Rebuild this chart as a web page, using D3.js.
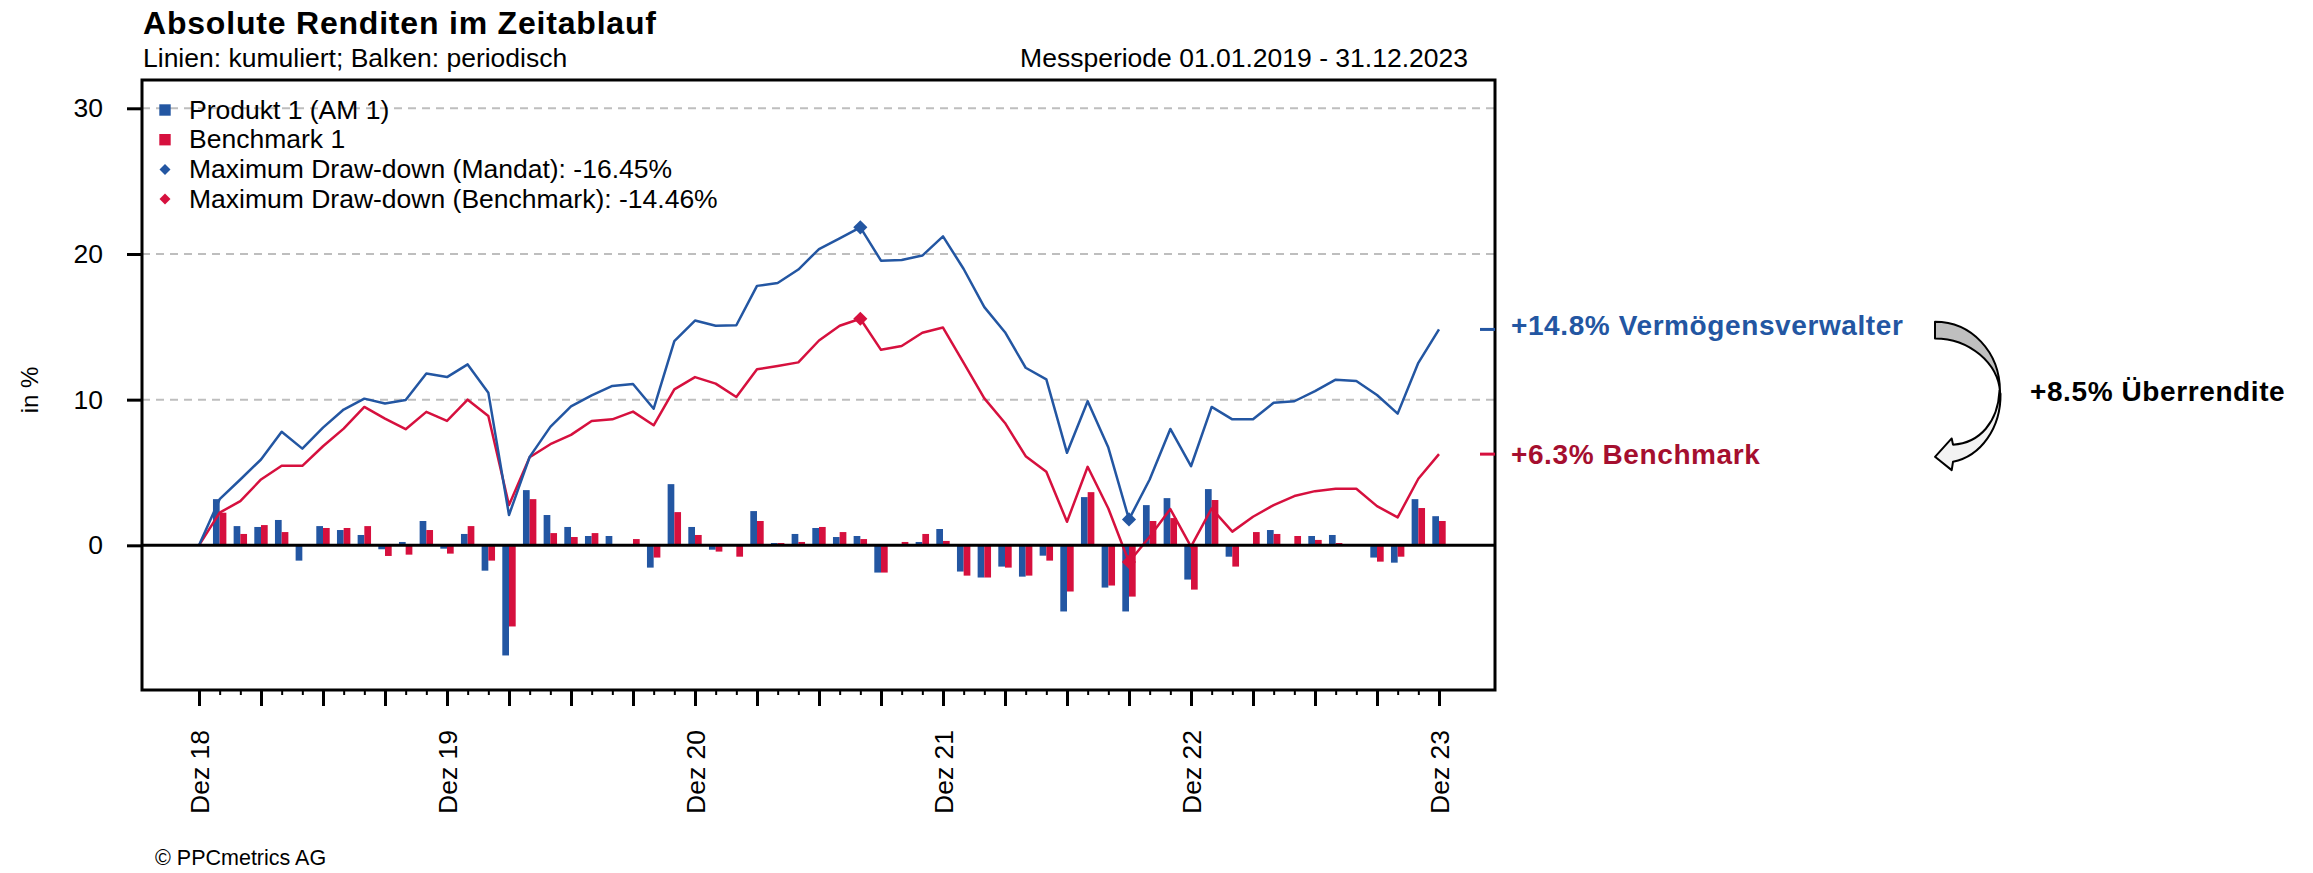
<!DOCTYPE html>
<html>
<head>
<meta charset="utf-8">
<script src="https://cdn.jsdelivr.net/npm/d3@7"></script>
<style>
  body { margin: 0; background: #fff; }
  svg { display: block; font-family: "Liberation Sans", Arial, sans-serif; }
</style>
</head>
<body>
<div id="chart"></div>
<script>
// x axis labels, placed every 12 months (month index 0 = Dez 18)
const xTickLabels = ["Dez 18", "Dez 19", "Dez 20", "Dez 21", "Dez 22", "Dez 23"];
const yTicks = [0, 10, 20, 30];

// cumulative returns in %, month 0..60
const produktCum = [0, 3.17, 4.52, 5.89, 7.79, 6.64, 8.08, 9.32, 10.07, 9.73, 9.98, 11.8, 11.55,
    12.42, 10.48, 2.08, 6.07, 8.13, 9.54, 10.3, 10.94, 11.07, 9.38, 14.02, 15.43,
    15.07, 15.11, 17.81, 18.01, 18.93, 20.34, 21.07, 21.83, 19.54, 19.59, 19.89, 21.21,
    18.97, 16.35, 14.63, 12.19, 11.39, 6.35, 9.89, 6.71, 1.78, 4.52, 7.99, 5.43,
    9.5, 8.65, 8.65, 9.79, 9.89, 10.59, 11.37, 11.28, 10.32, 9.04, 12.53, 14.82];
const benchCum = [0, 2.24, 3.04, 4.52, 5.46, 5.46, 6.8, 8.01, 9.5, 8.7, 7.97, 9.16, 8.54,
    10.0, 8.88, 2.76, 6.05, 6.94, 7.58, 8.54, 8.65, 9.18, 8.24, 10.71, 11.55,
    11.1, 10.18, 12.08, 12.31, 12.56, 14.06, 15.07, 15.55, 13.42, 13.68, 14.59, 14.95,
    12.53, 10.09, 8.4, 6.12, 5.05, 1.62, 5.39, 2.53, -1.14, 0.59, 2.49, -0.09,
    2.53, 0.94, 1.96, 2.76, 3.38, 3.72, 3.88, 3.88, 2.69, 1.92, 4.57, 6.26];

// periodic (monthly) returns in %, month 1..60
const produktMonthly = [3.17, 1.32, 1.26, 1.74, -1.05, 1.32, 1.05, 0.71, -0.27, 0.23, 1.67, -0.23,
    0.78, -1.74, -7.56, 3.79, 2.08, 1.26, 0.64, 0.64, 0.05, -1.53, 4.2, 1.26,
    -0.3, 0, 2.35, 0.16, 0.78, 1.19, 0.57, 0.64, -1.87, 0, 0.23, 1.12,
    -1.8, -2.21, -1.46, -2.15, -0.71, -4.54, 3.31, -2.9, -4.54, 2.76, 3.24, -2.35,
    3.86, -0.78, 0, 1.05, 0, 0.64, 0.71, 0, -0.84, -1.19, 3.17, 2.0];
const benchMonthly = [2.24, 0.78, 1.39, 0.91, 0, 1.19, 1.19, 1.32, -0.73, -0.64, 1.05, -0.57,
    1.32, -1.05, -5.57, 3.17, 0.84, 0.57, 0.84, 0, 0.43, -0.84, 2.28, 0.71,
    -0.43, -0.78, 1.67, 0.16, 0.23, 1.26, 0.91, 0.43, -1.87, 0.23, 0.78, 0.3,
    -2.08, -2.21, -1.53, -2.08, -1.05, -3.17, 3.65, -2.76, -3.52, 1.67, 1.87, -3.04,
    3.11, -1.46, 0.91, 0.78, 0.64, 0.37, 0.16, 0, -1.12, -0.78, 2.56, 1.67];

// peak and trough month of the maximum draw-down
const drawdownMonths = [32, 45];
const legendLabels = ["Produkt 1 (AM 1)", "Benchmark 1",
    "Maximum Draw-down (Mandat): -16.45%", "Maximum Draw-down (Benchmark): -14.46%"];

const W = 2313, H = 873;
const frame = { left: 142, right: 1495, top: 80, bottom: 690 };
const blue = '#2356A2', red = '#D6103E', redText = '#A50F2F';
const barW = 6.7;

const svg = d3.select('#chart').append('svg')
    .attr('width', W)
    .attr('height', H);

const x = d3.scaleLinear().domain([0, 60]).range([199, 1439]);
const y = d3.scaleLinear().domain([-10, 30]).range([691, 108.3]);

// titles
svg.append('text')
    .attr('x', 143).attr('y', 34)
    .attr('font-size', 32).attr('font-weight', 'bold')
    .attr('letter-spacing', 0.8)
    .text('Absolute Renditen im Zeitablauf');
svg.append('text')
    .attr('x', 143).attr('y', 67)
    .attr('font-size', 26.5)
    .text('Linien: kumuliert; Balken: periodisch');
svg.append('text')
    .attr('x', 1468).attr('y', 67)
    .attr('font-size', 26.5).attr('text-anchor', 'end')
    .text('Messperiode 01.01.2019 - 31.12.2023');

// gridlines
svg.append('g').selectAll('line')
    .data(yTicks.filter(d => d !== 0))
    .join('line')
    .attr('x1', frame.left).attr('x2', frame.right)
    .attr('y1', d => y(d)).attr('y2', d => y(d))
    .attr('stroke', '#BEBEBE').attr('stroke-width', 2)
    .attr('stroke-dasharray', '8,6');

// bars
const bars = svg.append('g');
bars.selectAll('.bar-p')
    .data(produktMonthly)
    .join('rect')
    .attr('class', 'bar-p')
    .attr('x', (d, i) => x(i + 1) - barW)
    .attr('y', d => Math.min(y(d), y(0)))
    .attr('width', barW)
    .attr('height', d => Math.abs(y(d) - y(0)))
    .attr('fill', blue);
bars.selectAll('.bar-b')
    .data(benchMonthly)
    .join('rect')
    .attr('class', 'bar-b')
    .attr('x', (d, i) => x(i + 1))
    .attr('y', d => Math.min(y(d), y(0)))
    .attr('width', barW)
    .attr('height', d => Math.abs(y(d) - y(0)))
    .attr('fill', red);

// cumulative lines
const line = d3.line().x((d, i) => x(i)).y(d => y(d));
svg.append('path').datum(benchCum)
    .attr('d', line).attr('fill', 'none')
    .attr('stroke', red).attr('stroke-width', 2.5).attr('stroke-linejoin', 'round');
svg.append('path').datum(produktCum)
    .attr('d', line).attr('fill', 'none')
    .attr('stroke', blue).attr('stroke-width', 2.5).attr('stroke-linejoin', 'round');

// zero line
svg.append('line')
    .attr('x1', frame.left).attr('x2', frame.right)
    .attr('y1', y(0)).attr('y2', y(0))
    .attr('stroke', '#000').attr('stroke-width', 3);

// draw-down markers
const diamond = d3.symbol().type(d3.symbolSquare).size(100);
[[benchCum, red], [produktCum, blue]].forEach(([series, col]) => {
    svg.append('g').selectAll('path')
        .data(drawdownMonths)
        .join('path')
        .attr('d', diamond)
        .attr('transform', m => `translate(${x(m)},${y(series[m])}) rotate(45)`)
        .attr('fill', col);
});

// frame
svg.append('rect')
    .attr('x', frame.left).attr('y', frame.top)
    .attr('width', frame.right - frame.left)
    .attr('height', frame.bottom - frame.top)
    .attr('fill', 'none').attr('stroke', '#000').attr('stroke-width', 3);

// y axis
const yAxis = svg.append('g')
    .attr('transform', `translate(${frame.left},0)`)
    .call(d3.axisLeft(y).tickValues(yTicks).tickSize(15).tickPadding(24));
yAxis.select('.domain').remove();
yAxis.selectAll('line').attr('stroke-width', 3);
yAxis.selectAll('text')
    .attr('font-size', 26.5).attr('font-family', null).attr('fill', '#000');

svg.append('text')
    .attr('transform', 'translate(30,390) rotate(-90)')
    .attr('text-anchor', 'middle').attr('dy', '0.35em')
    .attr('font-size', 24)
    .text('in %');

// x axis: monthly ticks, longer each quarter, labels every December
const xAxis = svg.append('g')
    .attr('transform', `translate(0,${frame.bottom})`)
    .call(d3.axisBottom(x)
        .tickValues(d3.range(0, 61))
        .tickSize(5)
        .tickFormat(i => i % 12 === 0 ? xTickLabels[i / 12] : ''));
xAxis.select('.domain').remove();
xAxis.selectAll('.tick line')
    .attr('y2', i => i % 3 === 0 ? 16 : 5)
    .attr('stroke-width', i => i % 3 === 0 ? 3 : 2);
xAxis.selectAll('.tick text')
    .attr('transform', 'rotate(-90)')
    .attr('x', -40).attr('y', 0).attr('dy', '0.35em')
    .attr('text-anchor', 'end')
    .attr('font-size', 26.5).attr('font-family', null).attr('fill', '#000');

// legend
const legend = svg.append('g');
const legY = i => 110 + i * 29.7;
legend.selectAll('path')
    .data(legendLabels)
    .join('path')
    .attr('d', (d, i) => d3.symbol().type(d3.symbolSquare).size(i < 2 ? 130 : 60)())
    .attr('transform', (d, i) => `translate(165,${legY(i)}) rotate(${i < 2 ? 0 : 45})`)
    .attr('fill', (d, i) => i % 2 === 0 ? blue : red);
legend.selectAll('text')
    .data(legendLabels)
    .join('text')
    .attr('x', 189)
    .attr('y', (d, i) => legY(i) + 8.5)
    .attr('font-size', 26.5)
    .text(d => d);

// end values on the right
const pEnd = produktCum[produktCum.length - 1];
const bEnd = benchCum[benchCum.length - 1];
const fmt = d3.format('.1f');
const ends = [
    { v: pEnd, col: blue, label: `+${fmt(pEnd)}% Vermögensverwalter`, dy: 6, textCol: blue },
    { v: bEnd, col: red, label: `+${fmt(bEnd)}% Benchmark`, dy: 10, textCol: redText }
];
ends.forEach(e => {
    svg.append('line')
        .attr('x1', 1480).attr('x2', frame.right)
        .attr('y1', y(e.v)).attr('y2', y(e.v))
        .attr('stroke', e.col).attr('stroke-width', 3);
    svg.append('text')
        .attr('x', 1511).attr('y', y(e.v) + e.dy)
        .attr('font-size', 28).attr('font-weight', 'bold')
        .attr('letter-spacing', 0.6)
        .attr('fill', e.textCol)
        .text(e.label);
});

// curved arrow from fund to benchmark
const ax = 1935, y0 = y(pEnd), y1 = y(bEnd), ym = (y0 + y1) / 2;
const arrow = svg.append('g').attr('stroke', '#000').attr('stroke-width', 2)
    .attr('stroke-linejoin', 'round');
arrow.append('path')
    .attr('d', `M${ax},${y0 - 7.6}
        C${ax + 36},${y0 - 7.6} ${ax + 65},${y0 + 22} ${ax + 65},${ym}
        C${ax + 63},${ym - 28} ${ax + 35},${y0 + 9} ${ax},${y0 + 9} Z`)
    .attr('fill', '#BFBFBF');
arrow.append('path')
    .attr('d', `M${ax + 64.5},${ym - 1}
        C${ax + 63},${ym + 30} ${ax + 45},${y1 - 11} ${ax + 18},${y1 - 9.5}
        L${ax + 16.7},${y1 - 15.7} L${ax},${y1 + 2.7} L${ax + 16.7},${y1 + 16}
        L${ax + 18},${y1 + 7.7}
        C${ax + 46},${y1 + 2} ${ax + 66},${ym + 36} ${ax + 65.5},${ym + 2} Z`)
    .attr('fill', '#F2F2F2');

svg.append('text')
    .attr('x', 2030).attr('y', ym + 9)
    .attr('font-size', 28).attr('font-weight', 'bold')
    .attr('letter-spacing', 0.6)
    .text(`+${fmt(+fmt(pEnd) - +fmt(bEnd))}% Überrendite`);

// footer
svg.append('text')
    .attr('x', 155).attr('y', 865)
    .attr('font-size', 21.5)
    .text('© PPCmetrics AG');
</script>
</body>
</html>
